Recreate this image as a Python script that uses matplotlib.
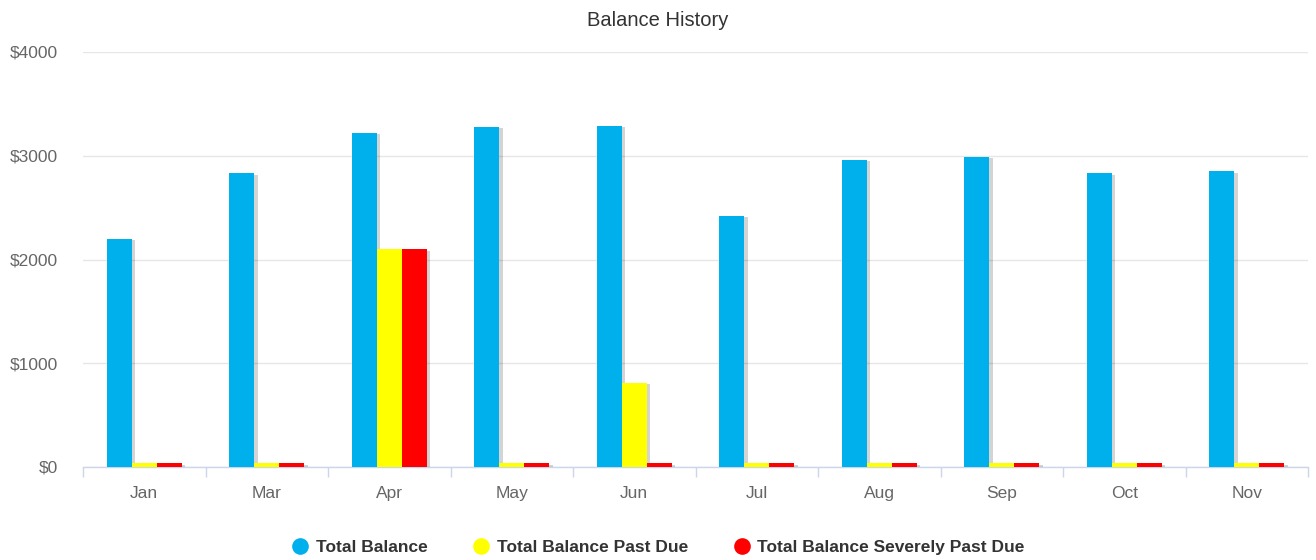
import matplotlib
matplotlib.use("Agg")
import matplotlib.pyplot as plt
import matplotlib.patheffects as pe
from matplotlib.lines import Line2D
import numpy as np

plt.rcParams['font.family'] = ['Liberation Sans', 'DejaVu Sans']

categories = ["Jan", "Mar", "Apr", "May", "Jun", "Jul", "Aug", "Sep", "Oct", "Nov"]
total_balance = [2200, 2830, 3220, 3280, 3290, 2420, 2960, 2990, 2830, 2850]
past_due = [35, 35, 2100, 35, 810, 35, 35, 35, 35, 35]
severely_past_due = [35, 35, 2100, 35, 35, 35, 35, 35, 35, 35]
series_names = ["Total Balance", "Total Balance Past Due", "Total Balance Severely Past Due"]
colors = ["#00B0EC", "#FFFF00", "#FF0000"]
y_ticks = [0, 1000, 2000, 3000, 4000]
y_tick_labels = ["$0", "$1000", "$2000", "$3000", "$4000"]

fig = plt.figure(figsize=(13.16, 5.6), dpi=100)
ax = fig.add_axes([83/1316, 1-467/560, (1308-83)/1316, (467-52)/560])

x = np.arange(len(categories))
bw = 0.205
shadow = [pe.SimplePatchShadow(offset=(2.5, -1), shadow_rgbFace="#000000", alpha=0.17), pe.Normal()]
for i, (vals, c) in enumerate(zip([total_balance, past_due, severely_past_due], colors)):
    bars = ax.bar(x + (i - 1) * bw, vals, width=bw, color=c, zorder=3, linewidth=0)
    for b in bars:
        b.set_path_effects(shadow)

ax.set_xlim(-0.5, len(categories) - 0.5)
ax.set_ylim(0, 4000)
ax.set_yticks(y_ticks)
ax.set_yticklabels(y_tick_labels)
ax.tick_params(axis='y', length=0, pad=18, labelsize=12.5, labelcolor="#666666")
ax.set_xticks(x)
ax.set_xticklabels(categories)
ax.tick_params(axis='x', length=0, pad=14, labelsize=12.5, labelcolor="#666666")
ax.set_xticks(np.arange(len(categories) + 1) - 0.5, minor=True)
ax.tick_params(axis='x', which='minor', length=7.5, color="#CCD6EB", width=1)
ax.grid(axis='y', color="#E6E6E6", linewidth=1, zorder=0)
for s in ["top", "right", "left"]:
    ax.spines[s].set_visible(False)
ax.spines["bottom"].set_color("#CCD6EB")
ax.spines["bottom"].set_linewidth(1)

fig.text(0.5, 1 - 20/560, "Balance History", ha="center", va="center", fontsize=14.5, color="#333333")

handles = [Line2D([0], [0], marker='o', linestyle='None', markersize=12, markerfacecolor=c,
                  markeredgewidth=0) for c in colors]
leg = fig.legend(handles, series_names, loc="center", bbox_to_anchor=(0.5, 1 - 547/560), ncol=3,
                 frameon=False, prop={"weight": "bold", "size": 12.5}, handletextpad=0.4,
                 columnspacing=2.6, handlelength=1.0)
for t in leg.get_texts():
    t.set_color("#333333")

fig.savefig("out.png", dpi=100)
